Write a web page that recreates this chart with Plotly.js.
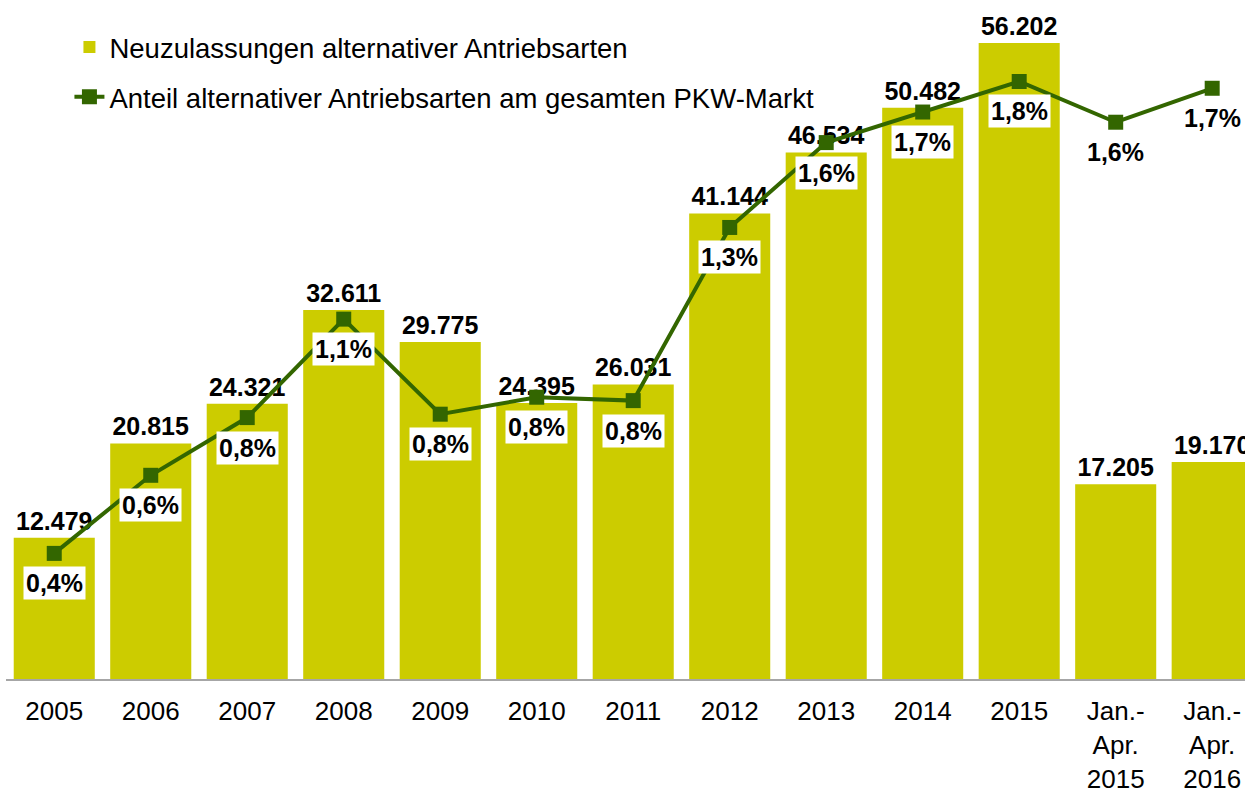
<!DOCTYPE html>
<html>
<head>
<meta charset="utf-8">
<script src="https://cdn.plot.ly/plotly-3.0.1.min.js"></script>
<style>
  html, body { margin: 0; padding: 0; background: #ffffff; overflow: hidden; }
  #chart { width: 1245px; height: 789px; }
</style>
</head>
<body>
<div id="chart"></div>
<script>
// ---- Data ----
const categories = ['2005', '2006', '2007', '2008', '2009', '2010', '2011', '2012', '2013', '2014', '2015', 'Jan.-Apr. 2015', 'Jan.-Apr. 2016'];
const tickLabels = ['2005', '2006', '2007', '2008', '2009', '2010', '2011', '2012', '2013', '2014', '2015', 'Jan.-<br>Apr.<br>2015', 'Jan.-<br>Apr.<br>2016'];
const registrations = [12479, 20815, 24321, 32611, 29775, 24395, 26031, 41144, 46534, 50482, 56202, 17205, 19170];
const sharePercent = [0.37, 0.60, 0.77, 1.06, 0.78, 0.83, 0.82, 1.33, 1.58, 1.67, 1.76, 1.64, 1.74];

const barName = 'Neuzulassungen alternativer Antriebsarten';
const lineName = 'Anteil alternativer Antriebsarten am gesamten PKW-Markt';

// ---- Formatting helpers ----
function fmtThousands(n) { return String(n).replace(/\B(?=(\d{3})+(?!\d))/g, '.'); }
function fmtPercent(v) { return v.toFixed(1).replace('.', ',') + '%'; }

const FONT = 'Liberation Sans, Arial, sans-serif';
const barColor = '#CCCC00';
const lineColor = '#336600';

const barTrace = {
  type: 'bar',
  name: barName,
  x: categories,
  y: registrations,
  marker: { color: barColor },
  text: registrations.map(fmtThousands),
  textposition: 'outside',
  textangle: 0,
  constraintext: 'none',
  cliponaxis: false,
  textfont: { family: FONT, size: 25, color: '#000000', weight: 'bold' },
  legendgroup: 'a',
  hoverinfo: 'skip'
};

const lineTrace = {
  type: 'scatter',
  mode: 'lines+markers',
  name: lineName,
  x: categories,
  y: sharePercent,
  yaxis: 'y2',
  line: { color: lineColor, width: 4 },
  marker: { color: lineColor, symbol: 'square', size: 15 },
  cliponaxis: false,
  legendgroup: 'b',
  hoverinfo: 'skip'
};

// category axes place annotations by category index
const percentAnnotations = sharePercent.map((v, i) => ({
  x: i,
  y: v,
  xref: 'x',
  yref: 'y2',
  text: '<b>' + fmtPercent(v) + '</b>',
  showarrow: false,
  yshift: -30,
  bgcolor: '#ffffff',
  borderpad: 2,
  font: { family: FONT, size: 25, color: '#000000' }
}));

const layout = {
  width: 1245,
  height: 789,
  autosize: false,
  margin: { l: 6, r: 0, t: 0, b: 110, pad: 0 },
  paper_bgcolor: '#ffffff',
  plot_bgcolor: '#ffffff',
  font: { family: FONT, size: 26, color: '#000000' },
  bargap: 0.16,
  showlegend: true,
  legend: {
    x: 0.0512, y: 0.9665, xanchor: 'left', yanchor: 'top',
    bgcolor: 'rgba(0,0,0,0)',
    font: { family: FONT, size: 27.5, color: '#000000' },
    tracegroupgap: 11,
    traceorder: 'grouped'
  },
  xaxis: {
    type: 'category',
    range: [-0.5, 12.34],
    tickvals: categories,
    ticktext: tickLabels,
    showgrid: false,
    zeroline: false,
    showline: true,
    linecolor: '#A6A6A6',
    linewidth: 2,
    ticks: '',
    ticklabelstandoff: 8,
    tickfont: { family: FONT, size: 26, color: '#000000' },
    fixedrange: true
  },
  yaxis: {
    range: [0, 60000],
    visible: false,
    showgrid: false,
    zeroline: false,
    fixedrange: true
  },
  yaxis2: {
    range: [0, 2],
    overlaying: 'y',
    side: 'right',
    visible: false,
    showgrid: false,
    zeroline: false,
    fixedrange: true
  },
  annotations: percentAnnotations
};

Plotly.newPlot('chart', [barTrace, lineTrace], layout, { displayModeBar: false, staticPlot: true });
</script>
</body>
</html>
